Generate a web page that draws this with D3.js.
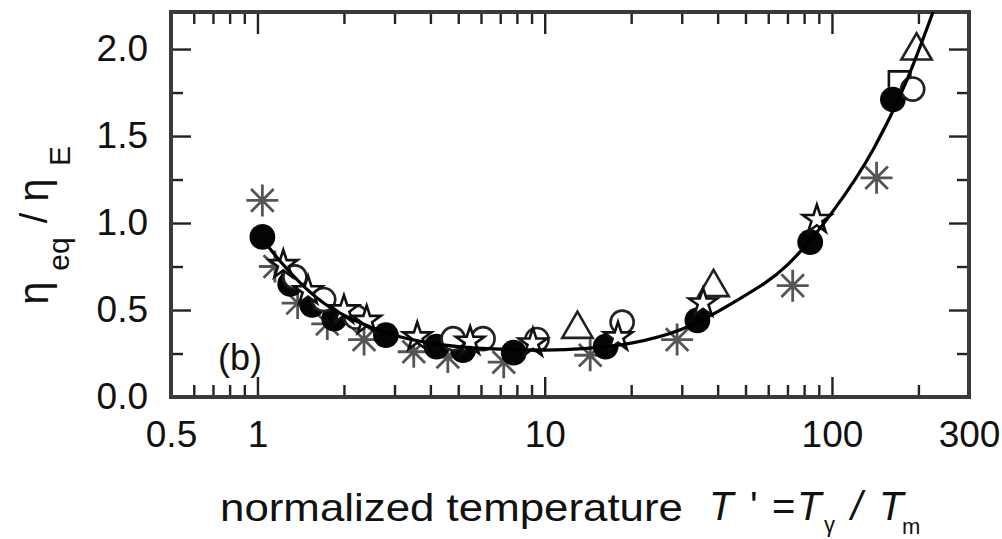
<!DOCTYPE html>
<html><head><meta charset="utf-8">
<script src="https://cdn.jsdelivr.net/npm/d3@7"></script>
<style>
body{margin:0;background:#fff}
svg{display:block}
text{font-family:"Liberation Sans",Arial,Helvetica,sans-serif;fill:#111}
</style>
</head><body>
<svg id="chart" width="1002" height="539"></svg>
<script>
// Axis ticks
const xTickLabels = [0.5, 1, 10, 100, 300];
const xMajorTicks = [1, 10, 100];
const xMinorTicks = [0.6, 0.7, 0.8, 0.9, 2, 3, 4, 5, 6, 7, 8, 9, 20, 30, 40, 50, 60, 70, 80, 90, 200];
const yMajorTicks = [0, 0.5, 1.0, 1.5, 2.0];
const yMinorTicks = [0.25, 0.75, 1.25, 1.75];

// Measured viscosity ratio, one pair of arrays per symbol
const filledT = [1.04, 1.3, 1.55, 1.85, 2.8, 4.2, 5.2, 7.8, 16.3, 34, 84, 163];
const filledR = [0.92, 0.65, 0.53, 0.45, 0.355, 0.29, 0.27, 0.255, 0.29, 0.44, 0.89, 1.71];
const asterT  = [1.04, 1.15, 1.38, 1.75, 2.35, 3.5, 4.6, 7.2, 14.4, 28.9, 73, 143];
const asterR  = [1.13, 0.75, 0.54, 0.42, 0.33, 0.26, 0.23, 0.20, 0.24, 0.33, 0.64, 1.26];
const starT   = [1.23, 1.5, 2.0, 2.4, 3.6, 5.5, 9.1, 18, 35.6, 88.6];
const starR   = [0.76, 0.61, 0.50, 0.44, 0.345, 0.32, 0.31, 0.345, 0.54, 1.02];
const circT   = [1.35, 1.7, 2.2, 4.8, 6.1, 9.4, 18.6, 191];
const circR   = [0.69, 0.56, 0.46, 0.335, 0.335, 0.33, 0.43, 1.77];
const triT    = [13, 38.7, 197];
const triR    = [0.39, 0.63, 1.99];
const sqT     = [172];
const sqR     = [1.81];

// Fitted curve
const fitT = [1.05, 1.2, 1.4, 1.7, 2.0, 2.5, 3, 4, 5, 7, 10, 14, 20, 30, 45, 70, 100, 140, 180, 235];
const fitR = [0.90, 0.78, 0.66, 0.54, 0.47, 0.40, 0.355, 0.31, 0.29, 0.275, 0.27, 0.28, 0.31, 0.39, 0.54, 0.76, 1.06, 1.43, 1.80, 2.30];

const L = 171, R = 969, T = 12, B = 397;
const svg = d3.select("#chart");
const x = d3.scaleLog().domain([0.5, 300]).range([L, R]);
const y = d3.scaleLinear().domain([0, 2.213]).range([B, T]);

svg.append("defs").append("clipPath").attr("id", "plot")
  .append("rect").attr("x", L).attr("y", T).attr("width", R - L).attr("height", B - T);

function tickAxis(axis, transform, values, size) {
  const g = svg.append("g").attr("transform", transform)
    .call(axis.tickValues(values).tickSize(-size).tickFormat(""));
  g.select(".domain").remove();
  g.selectAll(".tick line").attr("stroke", "#222").attr("stroke-width", 2.4);
  return g;
}
tickAxis(d3.axisBottom(x), `translate(0,${B})`, xMajorTicks, 20);
tickAxis(d3.axisBottom(x), `translate(0,${B})`, xMinorTicks, 12);
tickAxis(d3.axisTop(x), `translate(0,${T})`, xMajorTicks, 22);
tickAxis(d3.axisTop(x), `translate(0,${T})`, xMinorTicks, 12);
tickAxis(d3.axisLeft(y), `translate(${L},0)`, yMajorTicks, 20);
tickAxis(d3.axisLeft(y), `translate(${L},0)`, yMinorTicks, 12);
tickAxis(d3.axisRight(y), `translate(${R},0)`, yMajorTicks, 20);
tickAxis(d3.axisRight(y), `translate(${R},0)`, yMinorTicks, 12);

// Tick labels
const xl = svg.append("g").attr("transform", `translate(0,${B})`)
  .call(d3.axisBottom(x).tickValues(xTickLabels).tickSize(0).tickPadding(24).tickFormat(d => String(d)));
xl.select(".domain").remove();
xl.selectAll("text").attr("font-size", 37).attr("font-family", null).attr("fill", "#111");

const yl = svg.append("g").attr("transform", `translate(${L},0)`)
  .call(d3.axisLeft(y).tickValues(yMajorTicks).tickSize(0).tickPadding(23).tickFormat(d3.format(".1f")));
yl.select(".domain").remove();
yl.selectAll("text").attr("font-size", 37).attr("font-family", null).attr("fill", "#111");

// Frame
svg.append("rect").attr("x", L).attr("y", T).attr("width", R - L).attr("height", B - T)
  .attr("fill", "none").attr("stroke", "#3a3a3a").attr("stroke-width", 4);

// Markers
const plot = svg.append("g").attr("clip-path", "url(#plot)");
const pairs = (a, b) => a.map((v, i) => [v, b[i]]);

function asterisk(s) {
  const p = d3.path();
  for (let k = 0; k < 4; k++) {
    const a = k * Math.PI / 4;
    p.moveTo(-s * Math.cos(a), -s * Math.sin(a));
    p.lineTo(s * Math.cos(a), s * Math.sin(a));
  }
  return p.toString();
}

plot.append("g").selectAll("path").data(pairs(asterT, asterR)).join("path")
  .attr("transform", d => `translate(${x(d[0])},${y(d[1])})`)
  .attr("d", asterisk(16)).attr("stroke", "#555").attr("stroke-width", 2.8).attr("fill", "none");

plot.append("g").selectAll("path").data(pairs(sqT, sqR)).join("path")
  .attr("transform", d => `translate(${x(d[0])},${y(d[1])})`)
  .attr("d", d3.symbol(d3.symbolSquare, 460)()).attr("fill", "#fff").attr("stroke", "#111").attr("stroke-width", 2.6);

plot.append("g").selectAll("path").data(pairs(filledT, filledR)).join("path")
  .attr("transform", d => `translate(${x(d[0])},${y(d[1])})`)
  .attr("d", d3.symbol(d3.symbolCircle, 520)()).attr("fill", "#050505");

plot.append("g").selectAll("path").data(pairs(circT, circR)).join("path")
  .attr("transform", d => `translate(${x(d[0])},${y(d[1])})`)
  .attr("d", d3.symbol(d3.symbolCircle, 420)()).attr("fill", "#fff").attr("stroke", "#222").attr("stroke-width", 2.6);

plot.append("g").selectAll("path").data(pairs(triT, triR)).join("path")
  .attr("transform", d => `translate(${x(d[0])},${y(d[1])})`)
  .attr("d", d3.symbol(d3.symbolTriangle, 400)()).attr("fill", "#fff").attr("stroke", "#222").attr("stroke-width", 2.6);

plot.append("g").selectAll("path").data(pairs(starT, starR)).join("path")
  .attr("transform", d => `translate(${x(d[0])},${y(d[1])})`)
  .attr("d", d3.symbol(d3.symbolStar, 250)()).attr("fill", "#fff").attr("stroke", "#111").attr("stroke-width", 2.6);

// Fitted curve
plot.append("path").datum(pairs(fitT, fitR))
  .attr("d", d3.line().x(d => x(d[0])).y(d => y(d[1])).curve(d3.curveMonotoneX))
  .attr("fill", "none").attr("stroke", "#000").attr("stroke-width", 3.2);

// Panel tag
svg.append("text").attr("x", 218).attr("y", 370).attr("font-size", 36).text("(b)");

// Y axis title: η_eq / η_E
function ytext(s, cy, bx, fs) {
  svg.append("text").attr("transform", `translate(${bx},${cy}) rotate(-90)`)
    .attr("text-anchor", "middle").attr("font-size", fs).text(s);
}
ytext("η", 293, 48, 42);
ytext("eq", 254, 69, 30);
ytext("/", 218, 47, 38);
ytext("η", 190, 48, 42);
ytext("E", 156, 70, 30);

// X axis title
svg.append("text").attr("x", 220).attr("y", 521).attr("font-size", 39)
  .attr("textLength", 463).attr("lengthAdjust", "spacingAndGlyphs").text("normalized temperature");
function xt(s, px, py, fs, italic) {
  svg.append("text").attr("x", px).attr("y", py).attr("font-size", fs)
    .attr("font-style", italic ? "italic" : null).text(s);
}
xt("T", 709, 520, 40, true);
xt("'", 750, 520, 40, false);
xt("=", 772, 520, 40, false);
xt("T", 797, 520, 40, true);
xt("γ", 824, 532, 22, false);
xt("/", 851, 520, 40, true);
xt("T", 879, 520, 40, true);
xt("m", 902, 534, 22, false);
</script>
</body></html>
